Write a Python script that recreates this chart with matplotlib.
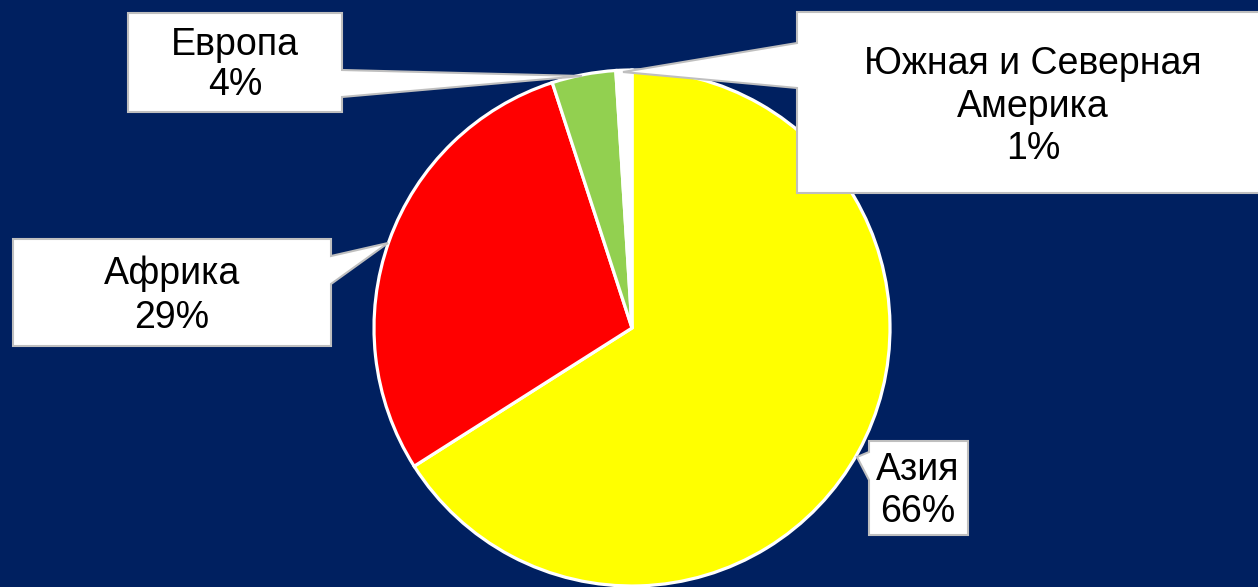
import matplotlib.pyplot as plt
from matplotlib.patches import Polygon

# данные
regions = ['Азия', 'Африка', 'Европа', 'Южная и Северная\nАмерика']
shares = [66, 29, 4, 1]
colors = ['#FFFF00', '#FF0000', '#92D050', '#FFFFFF']

W, H = 1258, 587
bg = '#002060'

fig = plt.figure(figsize=(W / 100, H / 100), dpi=100, facecolor=bg)
ax = fig.add_axes([0, 0, 1, 1])
ax.set_facecolor(bg)

def py(y):
    # пиксель сверху -> координата снизу
    return H - y

ax.pie(shares, colors=colors, startangle=90, counterclock=False,
       center=(632, py(328)), radius=258,
       wedgeprops=dict(edgecolor='white', linewidth=2.3))

# выноски: рамка, точки указателя на рамке, вершина, базовые линии текста
callouts = [
    # Азия
    dict(box=(869, 441, 968, 535), side='left', p=(452, 480), tip=(857, 457),
         tx=918, base=[480, 522]),
    # Африка
    dict(box=(13, 239, 331, 346), side='right', p=(256, 284), tip=(388, 243),
         tx=172, base=[284, 328]),
    # Европа
    dict(box=(128, 13, 342, 112), side='right', p=(70, 97), tip=(582, 76),
         tx=235, base=[55, 95]),
    # Америка
    dict(box=(797, 12, 1272, 193), side='left', p=(43, 88), tip=(623, 72),
         tx=1033, base=[74, 117, 159]),
]

for c, name, val in zip(callouts, regions, shares):
    x0, y0, x1, y1 = c['box']
    pa, pb = c['p']
    tx, ty = c['tip']
    if c['side'] == 'right':
        pts = [(x0, y0), (x1, y0), (x1, pa), (tx, ty), (x1, pb), (x1, y1), (x0, y1)]
    else:
        pts = [(x0, y0), (x1, y0), (x1, y1), (x0, y1), (x0, pb), (tx, ty), (x0, pa)]
    pts = [(x, py(y)) for x, y in pts]
    ax.add_patch(Polygon(pts, closed=True, facecolor='white', edgecolor='#BFBFBF',
                         linewidth=1.5, zorder=5))
    lines = name.split('\n') + [f'{val}%']
    for line, b in zip(lines, c['base']):
        ax.text(c['tx'], py(b), line, ha='center', va='baseline',
                fontsize=27, family='Liberation Sans', color='black', zorder=6)

ax.set_xlim(0, W)
ax.set_ylim(0, H)
ax.set_aspect('auto')
ax.axis('off')

fig.savefig('out.png', dpi=100, facecolor=bg)
